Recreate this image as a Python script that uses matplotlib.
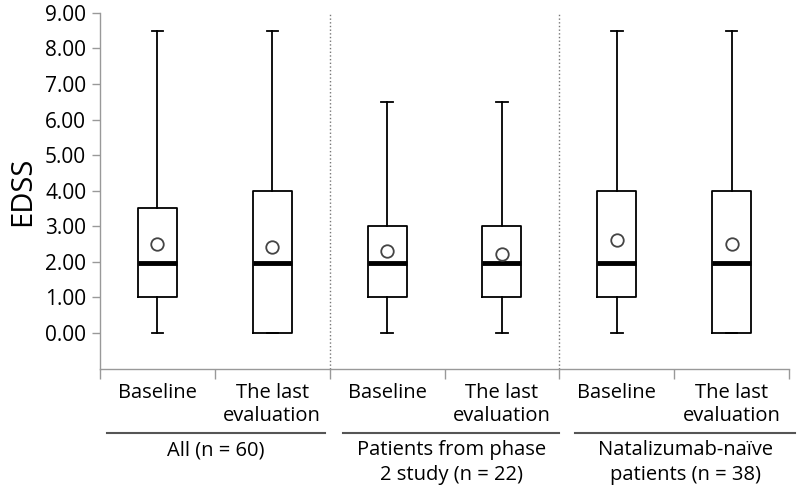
import matplotlib
matplotlib.use('Agg')
import matplotlib.pyplot as plt
import numpy as np

plt.rcParams['font.family'] = ['Open Sans', 'DejaVu Sans']

# ── Data (EDSS) ──
categories = ['Baseline', 'The last\nevaluation'] * 3
groups = ['All (n = 60)', 'Patients from phase\n2 study (n = 22)', 'Natalizumab-naïve\npatients (n = 38)']
whislo = [0, 0, 0, 0, 0, 0]
q1 = [1.0, 0.0, 1.0, 1.0, 1.0, 0.0]
med = [1.96, 1.96, 1.96, 1.96, 1.96, 1.96]
q3 = [3.5, 4.0, 3.0, 3.0, 4.0, 4.0]
whishi = [8.5, 8.5, 6.5, 6.5, 8.5, 8.5]
means = [2.5, 2.42, 2.3, 2.22, 2.6, 2.5]

stats = []
for i in range(len(categories)):
    stats.append(dict(whislo=whislo[i], q1=q1[i], med=med[i], q3=q3[i],
                      whishi=whishi[i], mean=means[i], fliers=[]))

fig = plt.figure(figsize=(7.97, 4.96), dpi=100)
ax = fig.add_axes([0.1255, 0.256, 0.8645, 0.718])

pos = np.arange(1, len(categories) + 1)
ax.bxp(stats, positions=pos, widths=0.34, showmeans=True, showfliers=False,
       boxprops=dict(color='black', linewidth=1.3),
       whiskerprops=dict(color='black', linewidth=1.3),
       capprops=dict(color='black', linewidth=1.3),
       medianprops=dict(color='black', linewidth=3.5, solid_capstyle='butt'),
       meanprops=dict(marker='o', markerfacecolor='white', markeredgecolor='#444444',
                      markersize=9, markeredgewidth=1.3),
       capwidths=0.1)

ax.set_xlim(0.5, 6.5)
ax.set_ylim(-1.02, 9)
ax.set_yticks(np.arange(0, 10))
ax.set_yticklabels([f'{v:.2f}' for v in range(10)], fontsize=15)
ax.set_ylabel('EDSS', fontsize=21, labelpad=6)

ax.set_xticks(np.arange(0.5, 7, 1))
ax.set_xticklabels([])
ax.tick_params(axis='x', length=7, color='#999999', width=1.0)
ax.tick_params(axis='y', length=6, color='#999999', width=1.0, pad=4)

for s in ['top', 'right']:
    ax.spines[s].set_visible(False)
for s in ['left', 'bottom']:
    ax.spines[s].set_color('#999999')
    ax.spines[s].set_linewidth(1.0)

# dotted group separators
for xs in [2.5, 4.5]:
    ax.axvline(xs, color='#777777', linestyle=':', linewidth=1.0)

tr = ax.get_xaxis_transform()
for p, c in zip(pos, categories):
    ax.text(p, -0.04, c, transform=tr, ha='center', va='top', fontsize=14.5,
            linespacing=1.15)

# group underlines and labels
spans = [(0.56, 2.46), (2.62, 4.5), (4.64, 6.55)]
for (a, b), g in zip(spans, groups):
    ax.plot([a, b], [-0.18, -0.18], transform=tr, color='#555555', linewidth=1.5,
            clip_on=False)
    ax.text((a + b) / 2, -0.20, g, transform=tr, ha='center', va='top',
            fontsize=14.5, linespacing=1.35)

plt.savefig('out.png', dpi=100)
plt.close()
